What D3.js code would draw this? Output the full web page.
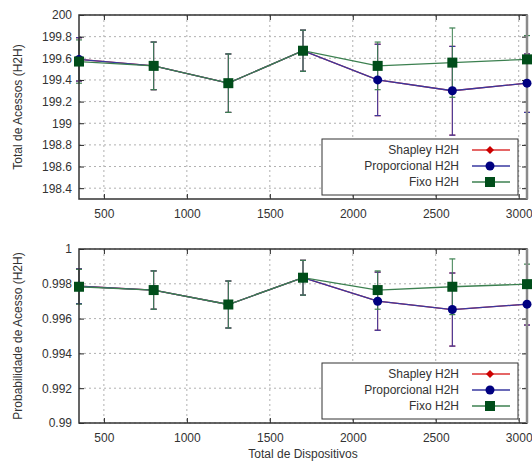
<!DOCTYPE html>
<html>
<head>
<meta charset="utf-8">
<script src="https://cdn.jsdelivr.net/npm/d3@7"></script>
<style>
  body { margin: 0; background: #fff; }
  svg { font-family: "Liberation Sans", Arial, sans-serif; }
</style>
</head>
<body>
<div id="chart"></div>
<script>
// data
const dispositivos = [350, 800, 1250, 1700, 2150, 2600, 3050];

const acessosShapley = [199.59, 199.53, 199.37, 199.67, 199.40, 199.30, 199.37];
const acessosShapleyErr = [0.20, 0.22, 0.27, 0.19, 0.33, 0.41, 0.27];
const acessosProp = [199.59, 199.53, 199.37, 199.67, 199.40, 199.30, 199.37];
const acessosPropErr = [0.20, 0.22, 0.27, 0.19, 0.33, 0.41, 0.27];
const acessosFixo = [199.57, 199.53, 199.37, 199.67, 199.53, 199.56, 199.59];
const acessosFixoErr = [0.20, 0.22, 0.27, 0.19, 0.22, 0.32, 0.22];

const probShapley = [0.99786, 0.99764, 0.99681, 0.99835, 0.99700, 0.99652, 0.99683];
const probShapleyErr = [0.0010, 0.0011, 0.00135, 0.0010, 0.00167, 0.0021, 0.0012];
const probProp = [0.99786, 0.99764, 0.99681, 0.99835, 0.99700, 0.99652, 0.99683];
const probPropErr = [0.0010, 0.0011, 0.00135, 0.0010, 0.00167, 0.0021, 0.0012];
const probFixo = [0.99783, 0.99764, 0.99681, 0.99835, 0.99764, 0.99783, 0.99798];
const probFixoErr = [0.0010, 0.0011, 0.00135, 0.0010, 0.0011, 0.0016, 0.00115];

const xTicks = [500, 1000, 1500, 2000, 2500, 3000];
const yTicksTop = [198.4, 198.6, 198.8, 199, 199.2, 199.4, 199.6, 199.8, 200];
const yTicksBottom = [0.99, 0.992, 0.994, 0.996, 0.998, 1];
const legendNames = ['Shapley H2H', 'Proporcional H2H', 'Fixo H2H'];

const W = 532, H = 464;
const svg = d3.select('#chart').append('svg').attr('width', W).attr('height', H);

const x = d3.scaleLinear().domain([350, 3050]).range([79, 527]);

const styles = [
  { line: '#dd3333', fill: '#cc0000', shape: 'diamond' },
  { line: '#3838a0', fill: '#000080', shape: 'circle' },
  { line: '#3c8050', fill: '#004d1a', shape: 'square' }
];

function drawMarker(g, shape, cx, cy, fill) {
  if (shape === 'circle') {
    g.append('circle').attr('cx', cx).attr('cy', cy).attr('r', 4.5).attr('fill', fill);
  } else if (shape === 'square') {
    g.append('rect').attr('x', cx - 5).attr('y', cy - 5).attr('width', 10).attr('height', 10).attr('fill', fill);
  } else {
    g.append('path').attr('d', `M${cx},${cy - 4}L${cx + 4},${cy}L${cx},${cy + 4}L${cx - 4},${cy}Z`).attr('fill', fill);
  }
}

function panel(top, bottom, yDomain, yTicks, fmt, label, series, errs, legendTop) {
  const y = d3.scaleLinear().domain(yDomain).range([bottom, top]);
  const g = svg.append('g');
  const left = x.range()[0], right = x.range()[1];

  // grid
  g.selectAll('.gx').data(xTicks).enter().append('line')
    .attr('x1', d => x(d)).attr('x2', d => x(d)).attr('y1', top).attr('y2', bottom)
    .attr('stroke', '#b0b0b0').attr('stroke-dasharray', '2,3');
  g.selectAll('.gy').data(yTicks).enter().append('line')
    .attr('x1', left).attr('x2', right).attr('y1', d => y(d)).attr('y2', d => y(d))
    .attr('stroke', '#b0b0b0').attr('stroke-dasharray', '2,3');

  const line = d3.line().x((d, i) => x(dispositivos[i])).y(d => y(d));

  // lines + error bars first
  series.forEach((s, k) => {
    const st = styles[k];
    const sg = g.append('g');
    sg.append('path').datum(s).attr('d', line).attr('fill', 'none')
      .attr('stroke', st.line).attr('stroke-width', 1.3);
    s.forEach((v, i) => {
      const cx = x(dispositivos[i]);
      const e = errs[k][i];
      sg.append('line').attr('x1', cx).attr('x2', cx).attr('y1', y(v - e)).attr('y2', y(v + e))
        .attr('stroke', st.line).attr('stroke-width', 1);
      [v - e, v + e].forEach(t => {
        sg.append('line').attr('x1', cx - 3).attr('x2', cx + 3).attr('y1', y(t)).attr('y2', y(t))
          .attr('stroke', st.line).attr('stroke-width', 1.2);
      });
    });
  });

  // axes (ticks inward)
  const ax = g.append('g').attr('transform', `translate(0,${bottom})`)
    .call(d3.axisBottom(x).tickValues(xTicks).tickSize(-5).tickPadding(10).tickFormat(d3.format('d')));
  const axT = g.append('g').attr('transform', `translate(0,${top})`)
    .call(d3.axisTop(x).tickValues(xTicks).tickSize(-5).tickFormat(''));
  const ay = g.append('g').attr('transform', `translate(${left},0)`)
    .call(d3.axisLeft(y).tickValues(yTicks).tickSize(-5).tickPadding(7).tickFormat(fmt));
  const ayR = g.append('g').attr('transform', `translate(${right},0)`)
    .call(d3.axisRight(y).tickValues(yTicks).tickSize(-5).tickFormat(''));
  [ax, axT, ay, ayR].forEach(a => {
    a.select('.domain').remove();
    a.selectAll('line').attr('stroke', '#222');
    a.selectAll('text').attr('fill', '#333').style('font-size', '12px')
      .style('font-family', '"Liberation Sans", Arial, sans-serif');
  });

  // frame
  g.append('rect').attr('x', left).attr('y', top).attr('width', right - left).attr('height', bottom - top)
    .attr('fill', 'none').attr('stroke', '#333').attr('stroke-width', 1.5);
  g.append('line').attr('x1', right).attr('x2', right).attr('y1', top).attr('y2', bottom)
    .attr('stroke', '#8a8a8a').attr('stroke-width', 2.5);

  // markers on top
  series.forEach((s, k) => {
    const sg = g.append('g');
    s.forEach((v, i) => drawMarker(sg, styles[k].shape, x(dispositivos[i]), y(v), styles[k].fill));
  });

  g.append('text')
    .attr('transform', `translate(22,${(top + bottom) / 2}) rotate(-90)`)
    .attr('text-anchor', 'middle').attr('fill', '#333').style('font-size', '12px')
    .text(label);

  // legend
  const lg = g.append('g');
  lg.append('rect').attr('x', 322).attr('y', legendTop).attr('width', 196).attr('height', 56)
    .attr('fill', '#fff').attr('stroke', '#333');
  legendNames.forEach((n, k) => {
    const ly = legendTop + 11 + k * 16;
    lg.append('text').attr('x', 459).attr('y', ly + 4).attr('text-anchor', 'end')
      .attr('fill', '#333').style('font-size', '12px').text(n);
    lg.append('line').attr('x1', 472).attr('x2', 510).attr('y1', ly).attr('y2', ly)
      .attr('stroke', styles[k].line).attr('stroke-width', 1.3);
    drawMarker(lg, styles[k].shape, 490, ly, styles[k].fill);
  });
}

panel(15, 199, [198.3, 200], yTicksTop, d3.format('~g'), 'Total de Acessos (H2H)',
  [acessosShapley, acessosProp, acessosFixo], [acessosShapleyErr, acessosPropErr, acessosFixoErr], 139);
panel(249, 423, [0.99, 1], yTicksBottom, d3.format('~g'), 'Probabilidade de Acesso (H2H)',
  [probShapley, probProp, probFixo], [probShapleyErr, probPropErr, probFixoErr], 363);

svg.append('text').attr('x', 303).attr('y', 458).attr('text-anchor', 'middle')
  .attr('fill', '#333').style('font-size', '12px').text('Total de Dispositivos');
</script>
</body>
</html>
